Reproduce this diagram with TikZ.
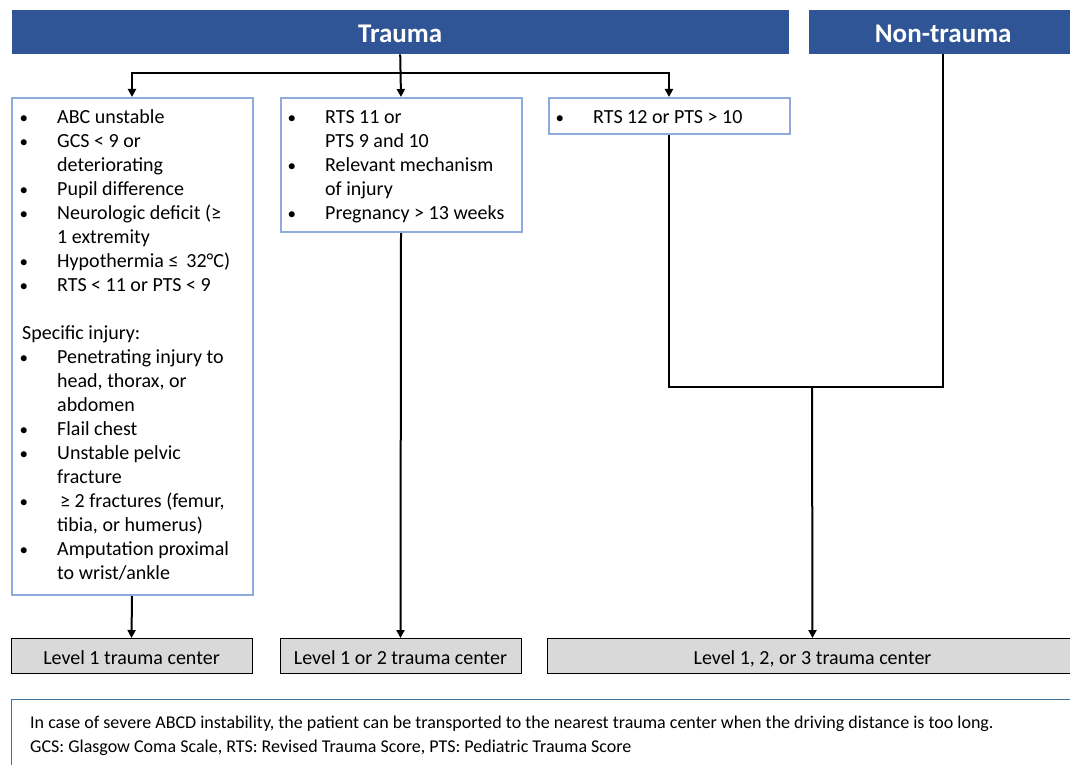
\documentclass[tikz,border=0pt]{standalone}
\usepackage{fontspec}
\setmainfont{Carlito}
\usetikzlibrary{arrows.meta}
\definecolor{hdrblue}{HTML}{2F5597}
\definecolor{boxblue}{HTML}{8FAADC}
\definecolor{lvgray}{HTML}{D9D9D9}
\definecolor{footblue}{HTML}{41719C}
\tikzset{
  hdrbox/.style={fill=hdrblue, draw=none, text=white, font=\fontsize{27}{32}\selectfont\bfseries, anchor=north west, inner sep=0pt, text height=22pt, text depth=0.6pt},
  critbox/.style={draw=boxblue, line width=2pt, fill=white, anchor=north west, inner sep=0pt},
  lvbox/.style={draw=black, line width=1pt, fill=lvgray, anchor=north west, inner sep=0pt, font=\fontsize{20}{24}\selectfont, text height=17pt, text depth=0pt},
  txt/.style={anchor=north west, inner sep=0pt, font=\fontsize{20}{24}\selectfont, align=left},
  conn/.style={line width=2pt, draw=black},
  arr/.style={conn, -{Triangle[width=8pt,length=8pt]}},
}
\newcommand{\bl}{\makebox[35pt][l]{\hspace{-2.5pt}\fontsize{17}{24}\selectfont•}}
\begin{document}
\begin{tikzpicture}[x=1pt,y=-1pt]
\useasboundingbox (0,0) rectangle (1070,765);
% headers
\node[hdrbox, minimum width=777pt, minimum height=44pt] (trauma) at (11.5,10) {Trauma};
\node[hdrbox, minimum width=268pt, minimum height=44pt] (nontrauma) at (809,10) {Non-trauma};
% criteria boxes
\node[critbox, minimum width=241pt, minimum height=497pt] (box1) at (10.5,97) {};
\node[critbox, minimum width=241pt, minimum height=134pt] (box2) at (279.5,97) {};
\node[critbox, minimum width=241pt, minimum height=36pt] (box3) at (547.5,97) {};
\node[txt] (t1) at (22,106.2) {\begin{tabular}{@{}l@{}l@{}}
\bl & ABC unstable\\
\bl & GCS < 9 or\\
 & deteriorating\\
\bl & Pupil difference\\
\bl & Neurologic deficit (≥\\
 & 1 extremity\\
\bl & Hypothermia ≤\, 32°C)\\
\bl & RTS < 11 or PTS < 9\\
 & \\
\multicolumn{2}{@{}l@{}}{Specific injury:}\\
\bl & Penetrating injury to\\
 & head, thorax, or\\
 & abdomen\\
\bl & Flail chest\\
\bl & Unstable pelvic\\
 & fracture\\
\bl & \hspace{3pt}≥ 2 fractures (femur,\\
 & tibia, or humerus)\\
\bl & Amputation proximal\\
 & to wrist/ankle
\end{tabular}};
\node[txt] (t2) at (290,106.2) {\begin{tabular}{@{}l@{}l@{}}
\bl & RTS 11 or\\
 & PTS 9 and 10\\
\bl & Relevant mechanism\\
 & of injury\\
\bl & Pregnancy > 13 weeks
\end{tabular}};
\node[txt] (t3) at (558,106.2) {\begin{tabular}{@{}l@{}l@{}}
\bl & RTS 12 or PTS > 10
\end{tabular}};
% level boxes
\node[lvbox, minimum width=241pt, minimum height=35pt] (lva) at (10.5,638) {Level 1 trauma center};
\node[lvbox, minimum width=241pt, minimum height=35pt] (lvb) at (279.5,638) {Level 1 or 2 trauma center};
\node[lvbox, minimum width=530pt, minimum height=35pt] (lvc) at (547,638) {Level 1, 2, or 3 trauma center};
% footer
\node[draw=footblue, line width=1.2pt, anchor=north west, minimum width=1080pt, minimum height=90pt, inner sep=0pt] (foot) at (11,699) {};
\node[anchor=base west, inner sep=0pt, font=\fontsize{18}{24}\selectfont, align=left] (ftxt) at (30,752) {In case of severe ABCD instability, the patient can be transported to the nearest trauma center when the driving distance is too long.\\GCS: Glasgow Coma Scale, RTS: Revised Trauma Score, PTS: Pediatric Trauma Score};
% connectors
\coordinate (j1) at (400,73);
\coordinate (m) at (812,387);
\draw[arr] (trauma.south) -- (box2.north);
\draw[arr] (j1) -| (box1.north);
\draw[arr] (j1) -| (box3.north);
\draw[conn] (box3.south) |- (nontrauma.south |- m) -- (nontrauma.south);
\draw[arr] (m) -- (lvc.north);
\draw[arr] (box1.south) -- (lva.north);
\draw[arr] (box2.south) -- (lvb.north);
\end{tikzpicture}
\end{document}
